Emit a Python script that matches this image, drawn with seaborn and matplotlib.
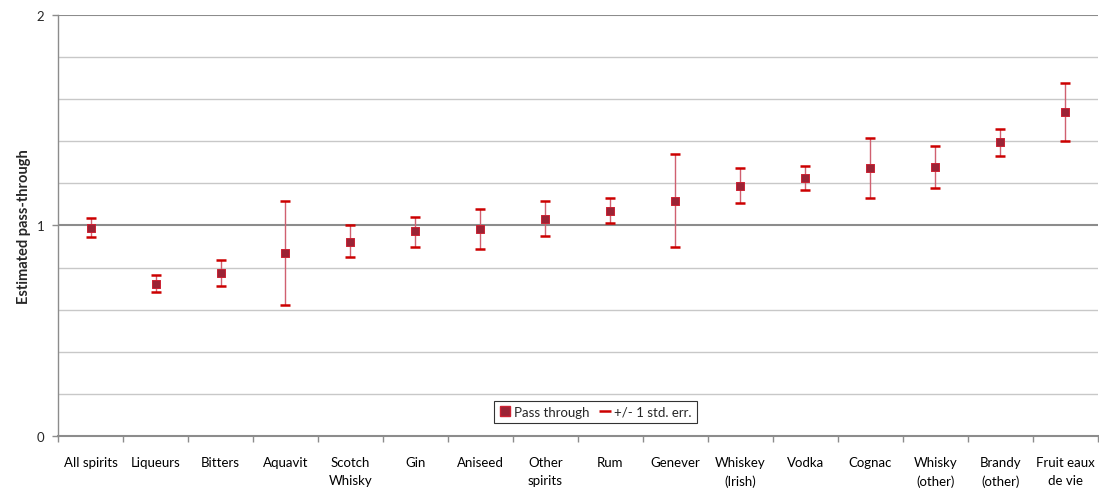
import numpy as np
import pandas as pd
import matplotlib
matplotlib.use("Agg")
import matplotlib.pyplot as plt
from matplotlib.lines import Line2D
import seaborn as sns

categories = ["All spirits", "Liqueurs", "Bitters", "Aquavit", "Scotch\nWhisky", "Gin",
              "Aniseed", "Other\nspirits", "Rum", "Genever", "Whiskey\n(Irish)", "Vodka",
              "Cognac", "Whisky\n(other)", "Brandy\n(other)", "Fruit eaux\nde vie"]
pass_through = [0.988, 0.722, 0.773, 0.870, 0.923, 0.972, 0.983, 1.032, 1.069, 1.118,
                1.189, 1.224, 1.271, 1.278, 1.396, 1.540]
upper = [1.034, 0.764, 0.836, 1.115, 1.001, 1.042, 1.080, 1.118, 1.132, 1.339,
         1.271, 1.281, 1.415, 1.379, 1.458, 1.677]
lower = [0.944, 0.683, 0.711, 0.624, 0.852, 0.898, 0.888, 0.949, 1.010, 0.898,
         1.107, 1.168, 1.129, 1.178, 1.331, 1.402]
y_ticks = [0, 1, 2]
y_grid = [0.2, 0.4, 0.6, 0.8, 1.2, 1.4, 1.6, 1.8]

sns.set_theme(style="white")
plt.rcParams['font.family'] = ['Lato', 'DejaVu Sans']

df = pd.DataFrame({"cat": categories, "pt": pass_through, "up": upper, "lo": lower})

fig = plt.figure(figsize=(10.99, 4.89), dpi=100)
ax = fig.add_axes([0.0528, 0.1057, 0.9462, 0.8623])

pos = np.arange(len(categories))
ax.set_xlim(-0.5, len(categories) - 0.5)
ax.set_ylim(0, 2)

for g in y_grid:
    ax.axhline(g, color="#c8c8c8", lw=1.0, zorder=0)
ax.axhline(1, color="#8c8c8c", lw=1.5, zorder=0)
ax.axhline(2, color="#8c8c8c", lw=1.5, zorder=0)

err = np.vstack([df["pt"] - df["lo"], df["up"] - df["pt"]])
ax.errorbar(pos, df["pt"], yerr=err, fmt="none", ecolor="#d06070", elinewidth=1.0,
            capsize=0, zorder=2)
# caps
ax.scatter(pos, df["up"], marker="_", s=55, color="#cc0000", linewidths=1.8, zorder=3)
ax.scatter(pos, df["lo"], marker="_", s=55, color="#cc0000", linewidths=1.8, zorder=3)

sns.scatterplot(x=pos, y=df["pt"], marker="s", s=32, color="#9b2335", edgecolor="#cc2233",
                linewidth=0.7, ax=ax, zorder=4, legend=False)

ax.set_xticks(pos)
ax.set_xticklabels(categories, fontsize=9.5, va="top", linespacing=1.65)
ax.set_xticks(np.arange(-0.5, len(categories), 1.0), minor=True)
ax.tick_params(axis="x", which="major", length=0, pad=14, colors="#000000")
ax.tick_params(axis="x", which="minor", length=4, width=1, color="#8c8c8c", bottom=True)
ax.set_yticks(y_ticks)
ax.set_yticklabels([str(t) for t in y_ticks], fontsize=9.5)
ax.tick_params(axis="y", which="major", length=4, width=1, color="#8c8c8c", left=True, pad=6)
ax.set_xlabel("")
ax.set_ylabel("Estimated pass-through", fontsize=10.5, fontweight="bold", labelpad=4)

for s in ["top", "right"]:
    ax.spines[s].set_visible(False)
ax.spines["left"].set_color("#8c8c8c")
ax.spines["left"].set_linewidth(1.0)
ax.spines["bottom"].set_color("#8c8c8c")
ax.spines["bottom"].set_linewidth(1.5)

handles = [
    Line2D([], [], marker="s", linestyle="none", markersize=6.5, markerfacecolor="#9b2335",
           markeredgecolor="#cc2233"),
    Line2D([], [], marker="_", linestyle="none", markersize=9, markeredgewidth=1.8,
           color="#cc0000"),
]
leg = ax.legend(handles, ["Pass through", "+/- 1 std. err."], loc="center",
                bbox_to_anchor=(0.517, 0.058), ncol=2, fontsize=9.5, frameon=True,
                fancybox=False, handlelength=0.8, handletextpad=0.3, columnspacing=0.8,
                borderpad=0.4, borderaxespad=0)
leg.get_frame().set_edgecolor("#000000")
leg.get_frame().set_linewidth(0.8)

fig.savefig("out.png", dpi=100)
